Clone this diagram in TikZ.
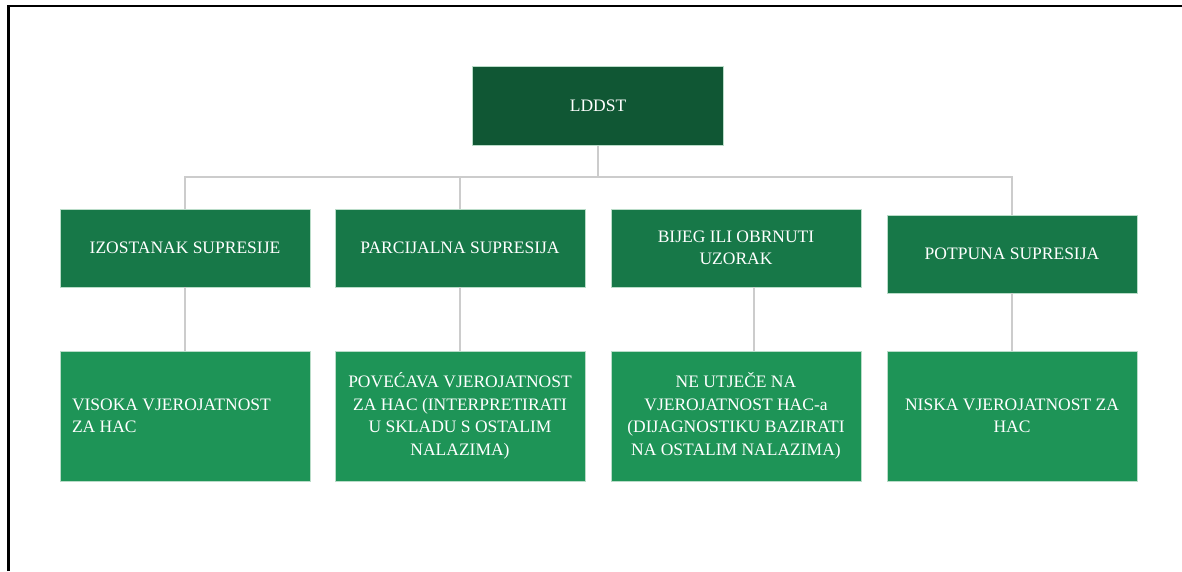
\documentclass[tikz,border=0pt]{standalone}
\usepackage{fontspec}
\setmainfont{Liberation Serif}
\definecolor{rootgreen}{RGB}{16,87,52}
\definecolor{midgreen}{RGB}{23,120,72}
\definecolor{lowgreen}{RGB}{30,148,87}
\definecolor{linegray}{RGB}{204,204,204}
\definecolor{edgegreen}{RGB}{185,220,200}
\begin{document}
\begin{tikzpicture}[x=1pt,y=-1pt,
  box/.style={rectangle, inner sep=0pt, minimum width=250pt, text=white,
    font=\fontsize{17.5}{22.5}\selectfont, align=center, draw=edgegreen, line width=0.7pt},
  rootbox/.style={box, fill=rootgreen, minimum width=251pt, minimum height=79pt},
  midbox/.style={box, fill=midgreen, minimum height=78pt},
  lowbox/.style={box, fill=lowgreen, minimum height=130pt},
  conn/.style={draw=linegray, line width=1.5pt}
]
\useasboundingbox (0,0) rectangle (1182,571);
\draw[line width=2.6pt] (8.7,571) -- (8.7,6) -- (1182,6);

\node[rootbox] (root) at (598,106) {LDDST};
\coordinate (hub) at (598,177);

\node[midbox] (b1) at (185,248) {IZOSTANAK SUPRESIJE};
\node[midbox] (b2) at (460,248) {PARCIJALNA SUPRESIJA};
\node[midbox] (b3) at (736,248) {BIJEG ILI OBRNUTI\\UZORAK};
\node[midbox] (b4) at (1012,254) {POTPUNA SUPRESIJA};

\node[lowbox, text width=226pt, inner xsep=12pt, align=flush left] (c1) at (185,416) {VISOKA VJEROJATNOST\\ZA HAC};
\node[lowbox] (c2) at (460,416) {POVEĆAVA VJEROJATNOST\\ZA HAC (INTERPRETIRATI\\U SKLADU S OSTALIM\\NALAZIMA)};
\node[lowbox] (c3) at (736,416) {NE UTJEČE NA\\VJEROJATNOST HAC-a\\(DIJAGNOSTIKU BAZIRATI\\NA OSTALIM NALAZIMA)};
\node[lowbox] (c4) at (1012,416) {NISKA VJEROJATNOST ZA\\HAC};

\draw[conn] (root.south) -- (hub);
\draw[conn] (b1.north) -- (b1.north |- hub) -- (b4.north |- hub) -- (b4.north);
\draw[conn] (b2.north) -- (b2.north |- hub);
\draw[conn] (b1.south) -- (c1.north);
\draw[conn] (b2.south) -- (c2.north);
\draw[conn] ([xshift=18pt]b3.south) -- ([xshift=18pt]c3.north);
\draw[conn] (b4.south) -- (c4.north);
\end{tikzpicture}
\end{document}
